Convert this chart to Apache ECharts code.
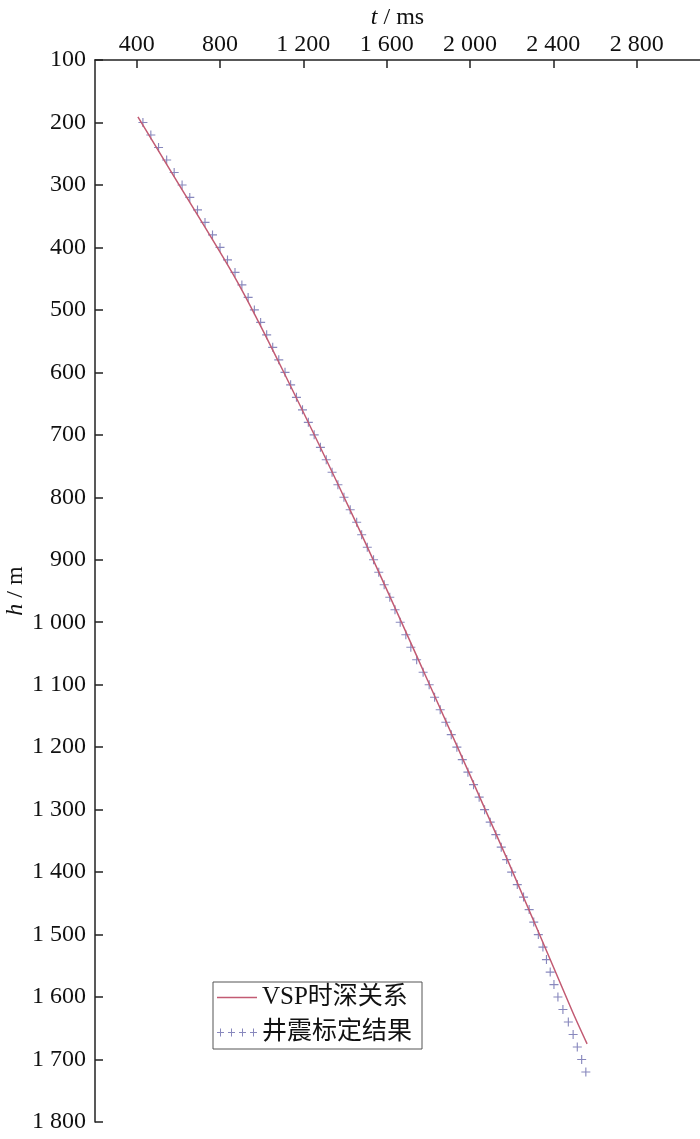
<!DOCTYPE html>
<html>
  <head>
    <meta charset="utf-8">
    <script src="https://cdn.jsdelivr.net/npm/echarts@6/dist/echarts.min.js"></script>
  </head>
  <body style="margin:0">
    <div id="main" style="width: 700px;height:1139px;"></div>
    <script type="text/javascript">
        // VSP time-depth curve (t in ms, h in m)
        var vspTime  = [406, 560, 880, 1102, 1448, 1798, 2182, 2490, 2562];
        var vspDepth = [191, 276, 453, 597, 837, 1094, 1382, 1622, 1675];

        // well-seismic calibration points
        var wellDepth = [200, 220, 240, 260, 280, 300, 320, 340, 360, 380,
                         400, 420, 440, 460, 480, 500, 520, 540, 560, 580,
                         600, 620, 640, 660, 680, 700, 720, 740, 760, 780,
                         800, 820, 840, 860, 880, 900, 920, 940, 960, 980,
                         1000, 1020, 1040, 1060, 1080, 1100, 1120, 1140, 1160, 1180,
                         1200, 1220, 1240, 1260, 1280, 1300, 1320, 1340, 1360, 1380,
                         1400, 1420, 1440, 1460, 1480, 1500, 1520, 1540, 1560, 1580,
                         1600, 1620, 1640, 1660, 1680, 1700, 1720];
        var wellTime = [430, 468, 505, 544, 580, 618, 655, 692, 728, 764,
                        800, 836, 872, 905, 935, 965, 995, 1024, 1053, 1082,
                        1112, 1139, 1167, 1196, 1224, 1252, 1282, 1310, 1338, 1366,
                        1395, 1425, 1456, 1480, 1507, 1537, 1562, 1588, 1615, 1640,
                        1665, 1692, 1716, 1744, 1775, 1804, 1830, 1857, 1884, 1910,
                        1937, 1963, 1990, 2017, 2044, 2070, 2097, 2124, 2150, 2176,
                        2200, 2227, 2257, 2284, 2306, 2328, 2350, 2367, 2385, 2403,
                        2422, 2446, 2472, 2495, 2515, 2536, 2556];

        var timeTicks = [400, 800, 1200, 1600, 2000, 2400, 2800];

        var vspData = vspTime.map(function (t, i) { return [t, vspDepth[i]]; });
        var wellData = wellTime.map(function (t, i) { return [t, wellDepth[i]]; });

        var font = '"Liberation Serif", "Times New Roman", serif';
        var fmt = function (v) {
            var s = String(v);
            return s.length > 3 ? s.slice(0, s.length - 3) + ' ' + s.slice(-3) : s;
        };
        var plusPath = 'path://M3.5,0h1v3.5h3.5v1h-3.5v3.5h-1v-3.5h-3.5v-1h3.5z';
        var legendPlus = 'path://M3,0h1v3.5h3v1h-3v3.5h-1v-3.5h-3v-1h3z' +
                         'M14,0h1v3.5h3v1h-3v3.5h-1v-3.5h-3v-1h3z' +
                         'M25,0h1v3.5h3v1h-3v3.5h-1v-3.5h-3v-1h3z' +
                         'M36,0h1v3.5h3v1h-3v3.5h-1v-3.5h-3v-1h3z';
        var legendLine = 'path://M0,0h40v1.5h-40z';

        var myChart = echarts.init(document.getElementById('main'));
        var option = {
            backgroundColor: '#fff',
            animation: false,
            grid: { left: 95, top: 60, right: -20, bottom: 17, containLabel: false, outerBoundsMode: 'none' },
            legend: {
                orient: 'vertical',
                left: 213,
                top: 982,
                itemWidth: 40,
                itemHeight: 8,
                itemGap: 10,
                symbolKeepAspect: true,
                padding: [3, 10, 4, 4],
                borderColor: '#555',
                borderWidth: 1,
                textStyle: { fontFamily: font + ', "Noto Sans CJK SC"', fontSize: 25, color: '#111' },
                data: [
                    { name: 'VSP时深关系', icon: legendLine },
                    { name: '井震标定结果', icon: legendPlus }
                ]
            },
            xAxis: {
                type: 'value',
                position: 'top',
                min: 200,
                max: 3200,
                name: '{i|t} / ms',
                nameLocation: 'middle',
                nameGap: 30,
                nameMoveOverlap: false,
                nameTextStyle: {
                    fontFamily: font, fontSize: 24, color: '#111', padding: [0, 20, 0, 0],
                    rich: { i: { fontFamily: font, fontSize: 24, fontStyle: 'italic', color: '#111' } }
                },
                axisLine: { lineStyle: { color: '#222', width: 1.5 } },
                axisTick: { inside: true, length: 8, customValues: timeTicks, lineStyle: { color: '#222', width: 1.5 } },
                axisLabel: { customValues: timeTicks, formatter: fmt, margin: 3, fontFamily: font, fontSize: 24, color: '#111' },
                splitLine: { show: false }
            },
            yAxis: {
                type: 'value',
                inverse: true,
                min: 100,
                max: 1800,
                interval: 100,
                name: '{i|h} / m',
                nameLocation: 'middle',
                nameGap: 67,
                nameMoveOverlap: false,
                nameTextStyle: {
                    fontFamily: font, fontSize: 24, color: '#111',
                    rich: { i: { fontFamily: font, fontSize: 24, fontStyle: 'italic', color: '#111' } }
                },
                axisLine: { lineStyle: { color: '#222', width: 1.5 } },
                axisTick: { inside: true, length: 8, lineStyle: { color: '#222', width: 1.5 } },
                axisLabel: { formatter: fmt, margin: 9, fontFamily: font, fontSize: 24, color: '#111' },
                splitLine: { show: false }
            },
            series: [
                {
                    name: '井震标定结果',
                    type: 'scatter',
                    data: wellData,
                    symbol: plusPath,
                    symbolSize: 9,
                    itemStyle: { color: '#6a6aad', opacity: 0.8 }
                },
                {
                    name: 'VSP时深关系',
                    type: 'line',
                    data: vspData,
                    smooth: 0.3,
                    symbol: 'none',
                    lineStyle: { color: '#c25b73', width: 1.5 },
                    itemStyle: { color: '#c25b73' }
                }
            ]
        };
        myChart.setOption(option);
    </script>
  </body>
</html>
